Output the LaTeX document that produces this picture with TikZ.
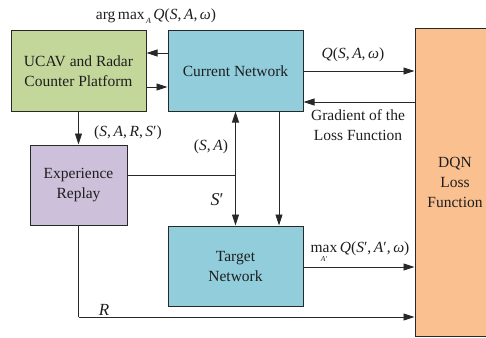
\documentclass[tikz,border=0pt]{standalone}
\usepackage{fontspec}
\setmainfont{Liberation Serif}
\usetikzlibrary{arrows.meta}
\definecolor{cgreen}{RGB}{196,215,155}
\definecolor{cblue}{RGB}{146,205,220}
\definecolor{cpurple}{RGB}{204,192,218}
\definecolor{corange}{RGB}{250,192,144}
\definecolor{linec}{RGB}{40,40,40}
\definecolor{txtc}{RGB}{30,30,30}
\begin{document}
\begin{tikzpicture}[x=1pt,y=-1pt,
  every node/.style={text=txtc,font=\fontsize{15.5}{20}\selectfont},
  box/.style={draw=linec,line width=1pt,inner sep=0pt,align=center},
  arr/.style={draw=linec,line width=0.9pt,-{Triangle[length=11pt,width=7pt]}},
  ln/.style={draw=linec,line width=0.9pt},
  lbl/.style={inner sep=0pt,anchor=base}]
\useasboundingbox (0,0) rectangle (486,337);
% boxes
\node[box,fill=cgreen,minimum width=135pt,minimum height=80pt] (ucav) at (78.5,71) {UCAV and Radar\\Counter Platform};
\node[box,fill=cblue,minimum width=135pt,minimum height=80pt] (cur) at (235.5,71) {Current Network};
\node[box,fill=cpurple,minimum width=97pt,minimum height=80pt] (exp) at (78.5,185) {Experience\\Replay};
\node[box,fill=cblue,minimum width=135pt,minimum height=80pt] (tgt) at (235.5,266) {Target\\Network};
\node[box,fill=corange,minimum width=80pt,minimum height=307pt] (dqn) at (455,182.5) {DQN\\Loss\\Function};
% connectors
\draw[arr] (cur.west |- 0,53) -- (ucav.east |- 0,53);
\draw[arr] (ucav.east |- 0,87) -- (cur.west |- 0,87);
\draw[arr] (cur.east |- 0,71) -- (dqn.west |- 0,71);
\draw[arr] (dqn.west |- 0,102) -- (cur.east |- 0,102);
\draw[arr] (ucav.south) -- (exp.north);
\coordinate (j) at (235.5,175);
\draw[ln] (exp.east |- j) -- (j);
\draw[arr] (j) -- (cur.south);
\draw[arr] (j) -- (tgt.north);
\draw[arr] (cur.south -| 279,0) -- (tgt.north -| 279,0);
\draw[arr] (tgt.east |- 0,267) -- (dqn.west |- 0,267);
\coordinate (rc) at (78.5,317);
\draw[ln] (exp.south) -- (rc);
\draw[arr] (rc) -- (rc -| dqn.west);
% labels
\node[lbl] (l1) at (156,20) {arg\,max\raisebox{-4pt}{\fontsize{8}{8}\selectfont\itshape\,A}\,\textit{Q}(\textit{S},\,\textit{A},\,\textit{ω})};
\node[lbl] (l2) at (353,58) {\textit{Q}(\textit{S},\,\textit{A},\,\textit{ω})};
\node[lbl,align=center,anchor=north] (l3) at (358,109) {Gradient of the\\Loss Function};
\node[lbl] (l4) at (128,136) {(\textit{S},\,\textit{A},\,\textit{R},\,\textit{S}′)};
\node[lbl] (l5) at (211,150) {(\textit{S},\,\textit{A})};
\node[lbl] (l6) at (217,205) {\fontsize{18}{18}\selectfont\textit{S}′};
\node[lbl] (l7) at (104,315) {\fontsize{17}{17}\selectfont\textit{R}};
\node[lbl] (l8) at (360,252) {$\mathop{\mbox{max}}\limits_{\mbox{\rule{0pt}{8pt}\fontsize{7.5}{8}\selectfont\itshape A′}}$\,\textit{Q}(\textit{S}′,\,\textit{A}′,\,\textit{ω})};
\end{tikzpicture}
\end{document}
